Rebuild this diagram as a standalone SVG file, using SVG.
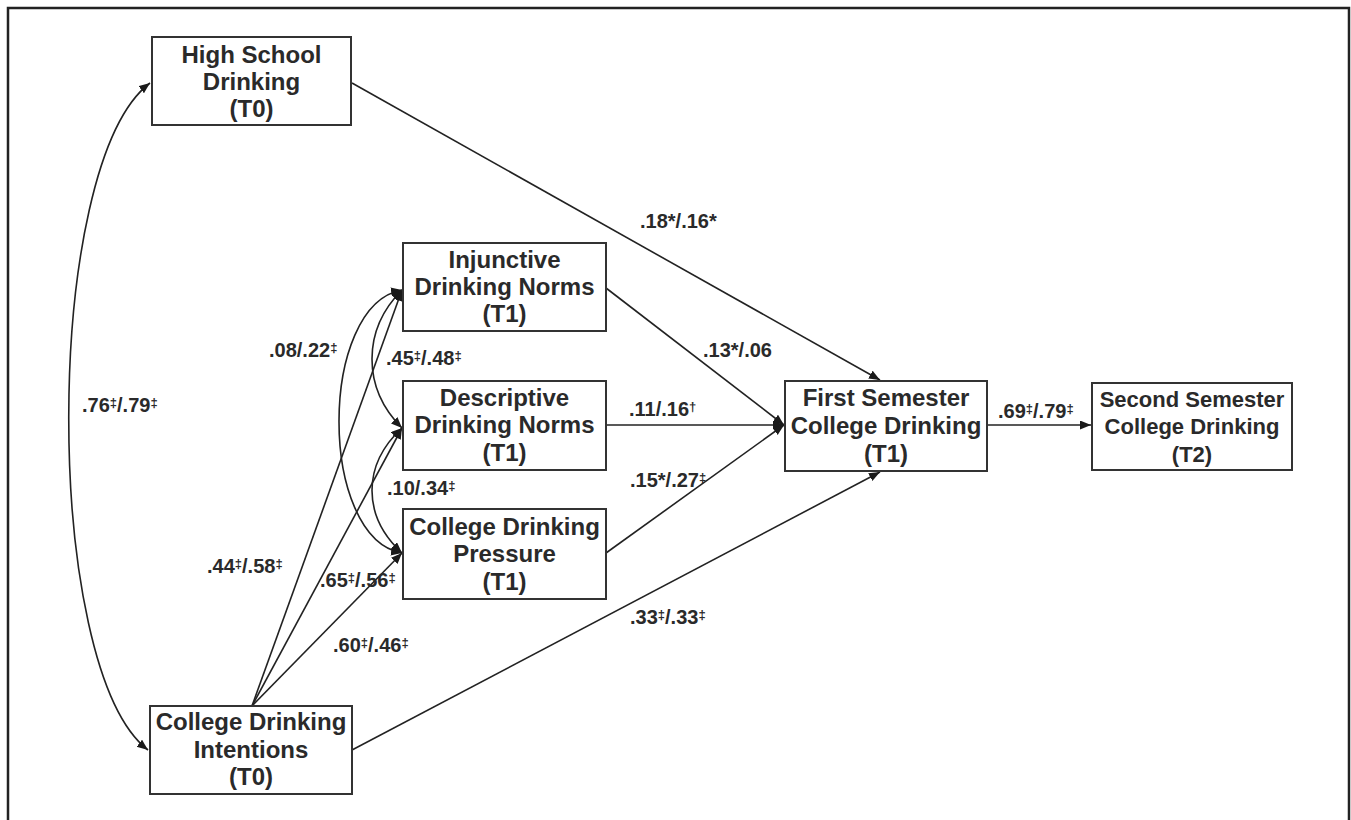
<svg xmlns="http://www.w3.org/2000/svg" width="1351" height="820" viewBox="0 0 1351 820">
<style>
.box{fill:#fff;stroke:#333;stroke-width:2}
.t{font-family:"Liberation Sans",Arial,sans-serif;font-weight:bold;font-size:24px;fill:#2a2a2a;text-anchor:middle}
.t2{font-size:22px}
.l{font-family:"Liberation Sans",Arial,sans-serif;font-weight:bold;font-size:20px;fill:#2a2a2a}
.s{font-size:13px;baseline-shift:5px}
.c{fill:none;stroke:#222;stroke-width:1.6}
.a{marker-end:url(#ah)}
.d{marker-start:url(#ah);marker-end:url(#ah)}
</style>
<defs>
<marker id="ah" markerUnits="userSpaceOnUse" markerWidth="12" markerHeight="10" refX="11" refY="4.5" orient="auto-start-reverse">
<path d="M0,0 L11,4.5 L0,9 z" fill="#1a1a1a"/>
</marker>
</defs>
<rect width="1351" height="820" fill="#fff"/>
<path d="M8,820 V8 H1349 V820" fill="none" stroke="#222" stroke-width="2.5"/>
<g id="connectors">
<path class="c d" d="M150,83 C42,165 42,668 148,750"/>
<path class="c a" d="M352,83 L880,380"/>
<path class="c a" d="M606,288 L784,425"/>
<path class="c a" d="M606,425 L784,425"/>
<path class="c a" d="M606,553 L784,425"/>
<path class="c a" d="M352,750 L880,472"/>
<path class="c a" d="M987,425 L1091,425"/>
<path class="c d" d="M402,290 C318,305 318,538 402,553"/>
<path class="c d" d="M402,290 C362,330 362,388 402,428"/>
<path class="c d" d="M402,428 C362,465 362,516 402,553"/>
<path class="c a" d="M252,706 L402,290"/>
<path class="c a" d="M252,706 L402,428"/>
<path class="c a" d="M252,706 L402,553"/>
</g>
<g id="labels">
<text class="l" x="82" y="412">.76<tspan class="s">‡</tspan>/.79<tspan class="s">‡</tspan></text>
<text class="l" x="640" y="228">.18*/.16*</text>
<text class="l" x="269" y="357">.08/.22<tspan class="s">‡</tspan></text>
<text class="l" x="386" y="365">.45<tspan class="s">‡</tspan>/.48<tspan class="s">‡</tspan></text>
<text class="l" x="387" y="495">.10/.34<tspan class="s">‡</tspan></text>
<text class="l" x="207" y="573">.44<tspan class="s">‡</tspan>/.58<tspan class="s">‡</tspan></text>
<text class="l" x="320" y="587">.65<tspan class="s">‡</tspan>/.56<tspan class="s">‡</tspan></text>
<text class="l" x="333" y="652">.60<tspan class="s">‡</tspan>/.46<tspan class="s">‡</tspan></text>
<text class="l" x="630" y="624">.33<tspan class="s">‡</tspan>/.33<tspan class="s">‡</tspan></text>
<text class="l" x="703" y="357">.13*/.06</text>
<text class="l" x="629" y="416">.11/.16<tspan class="s">†</tspan></text>
<text class="l" x="630" y="487">.15*/.27<tspan class="s">‡</tspan></text>
<text class="l" x="998" y="418">.69<tspan class="s">‡</tspan>/.79<tspan class="s">‡</tspan></text>
</g>
<g id="high-school">
<rect class="box" x="152" y="37" width="199" height="88"/>
<text class="t" x="251.5" y="63">High School</text>
<text class="t" x="251.5" y="90">Drinking</text>
<text class="t" x="251.5" y="117">(T0)</text>
</g>
<g id="injunctive">
<rect class="box" x="403" y="243" width="203" height="88"/>
<text class="t" x="504.5" y="268">Injunctive</text>
<text class="t" x="504.5" y="295">Drinking Norms</text>
<text class="t" x="504.5" y="322">(T1)</text>
</g>
<g id="descriptive">
<rect class="box" x="403" y="381" width="203" height="89"/>
<text class="t" x="504.5" y="406">Descriptive</text>
<text class="t" x="504.5" y="433">Drinking Norms</text>
<text class="t" x="504.5" y="461">(T1)</text>
</g>
<g id="pressure">
<rect class="box" x="403" y="509" width="203" height="90"/>
<text class="t" x="504.5" y="535">College Drinking</text>
<text class="t" x="504.5" y="562">Pressure</text>
<text class="t" x="504.5" y="590">(T1)</text>
</g>
<g id="intentions">
<rect class="box" x="150" y="706" width="202" height="88"/>
<text class="t" x="251" y="730">College Drinking</text>
<text class="t" x="251" y="758">Intentions</text>
<text class="t" x="251" y="785">(T0)</text>
</g>
<g id="first-semester">
<rect class="box" x="785" y="381" width="202" height="90"/>
<text class="t" x="886" y="406">First Semester</text>
<text class="t" x="886" y="434">College Drinking</text>
<text class="t" x="886" y="462">(T1)</text>
</g>
<g id="second-semester">
<rect class="box" x="1092" y="383" width="200" height="87"/>
<text class="t t2" x="1192" y="407">Second Semester</text>
<text class="t t2" x="1192" y="434">College Drinking</text>
<text class="t t2" x="1192" y="462">(T2)</text>
</g>
</svg>
